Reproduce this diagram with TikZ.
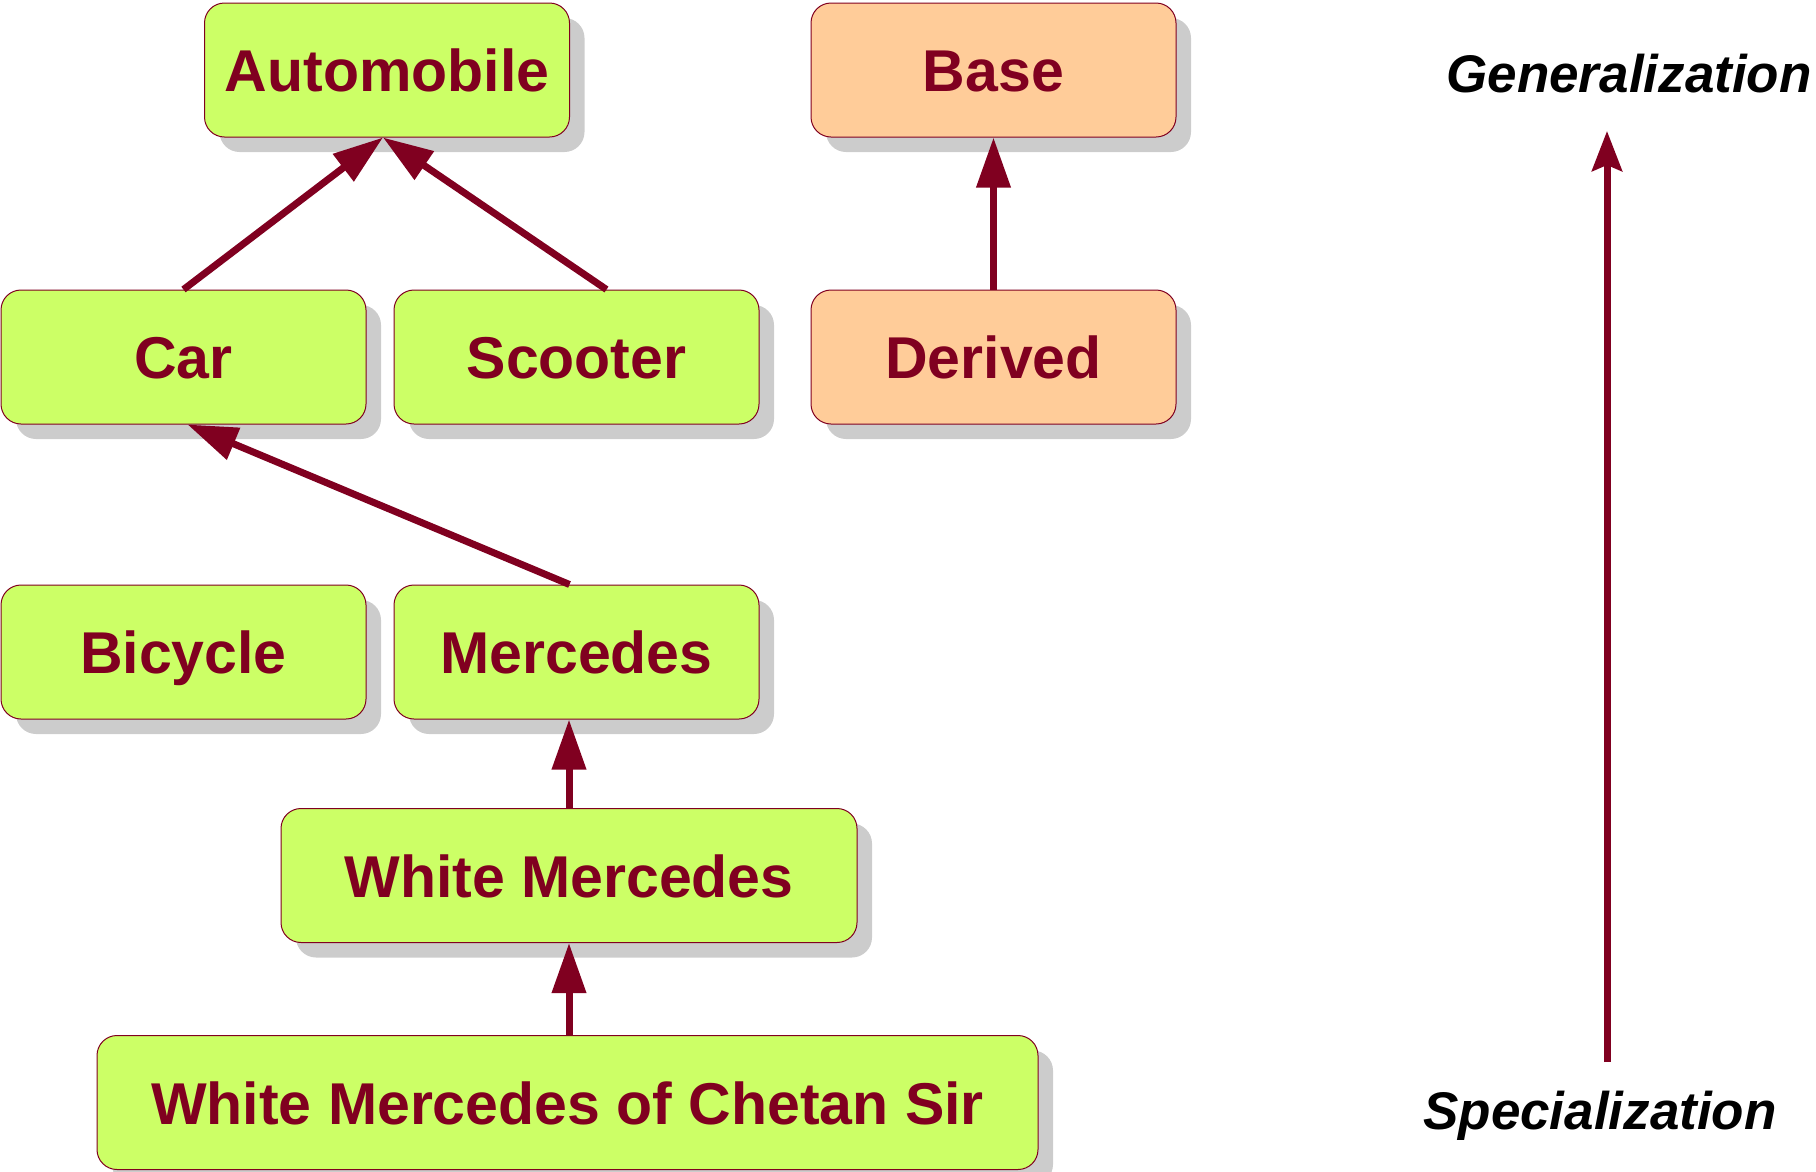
\documentclass[tikz,border=0pt]{standalone}
\usepackage{fontspec}
\setmainfont{Liberation Sans}
\usetikzlibrary{shadows,arrows.meta,calc}
\definecolor{wine}{RGB}{128,0,32}
\definecolor{lime}{RGB}{204,255,102}
\definecolor{peach}{RGB}{255,204,153}
\definecolor{shade}{RGB}{204,204,204}
\tikzset{
  box/.style={draw=wine, line width=1pt, rounded corners=20pt, fill=lime,
    minimum width=365pt, minimum height=134pt, inner sep=0pt,
    text height=43pt, text depth=0pt,
    text=wine, font=\fontsize{59}{62}\selectfont\bfseries,
    drop shadow={shadow xshift=15pt, shadow yshift=-15pt, fill=shade, opacity=1}},
  peachbox/.style={box, fill=peach},
  link/.style={draw=wine, line width=7pt, -{Triangle[length=50pt,width=33pt]}},
  biglink/.style={draw=wine, line width=7pt, -{Stealth[length=40pt,width=30pt,inset=6pt]}},
  caption/.style={font=\fontsize{53}{56}\selectfont\bfseries\itshape, text=black, inner sep=0pt}
}
\begin{document}
\begin{tikzpicture}[x=1pt,y=-1pt]
\useasboundingbox (0,0) rectangle (1816,1171);
\node[box] (auto) at (387,70) {Automobile};
\node[peachbox] (base) at (993.5,70) {Base};
\node[box] (car) at (183.5,357) {Car};
\node[box] (scooter) at (576.5,357) {Scooter};
\node[peachbox] (derived) at (993.5,357) {Derived};
\node[box] (bicycle) at (183.5,652) {Bicycle};
\node[box] (merc) at (576.5,652) {Mercedes};
\node[box, minimum width=576pt] (wm) at (569,875.5) {White Mercedes};
\node[box, minimum width=941pt] (wmcs) at (567.5,1102.5) {White Mercedes of Chetan Sir};
\node[caption, anchor=base] (gen) at (1629,92) {Generalization};
\node[caption, anchor=base] (spec) at (1600,1129) {Specialization};
\coordinate (gtop) at (1607,131);
\coordinate (gbot) at (1607,1062);

\draw[link] (car.north) -- ($(auto.south)+(-4,0)$);
\draw[link] ($(scooter.north)+(30,0)$) -- ($(auto.south)+(-4,0)$);
\draw[link] ($(merc.north)+(-7,0)$) -- ($(car.south)+(4,0)$);
\draw[link] (derived.north) -- (base.south);
\draw[link] (wm.north) -- (wm.north |- merc.south);
\draw[link] ($(wmcs.north)+(1.5,0)$) -- ($(wmcs.north |- wm.south)+(1.5,0)$);
\draw[biglink] (gbot) -- (gtop);
\end{tikzpicture}
\end{document}
